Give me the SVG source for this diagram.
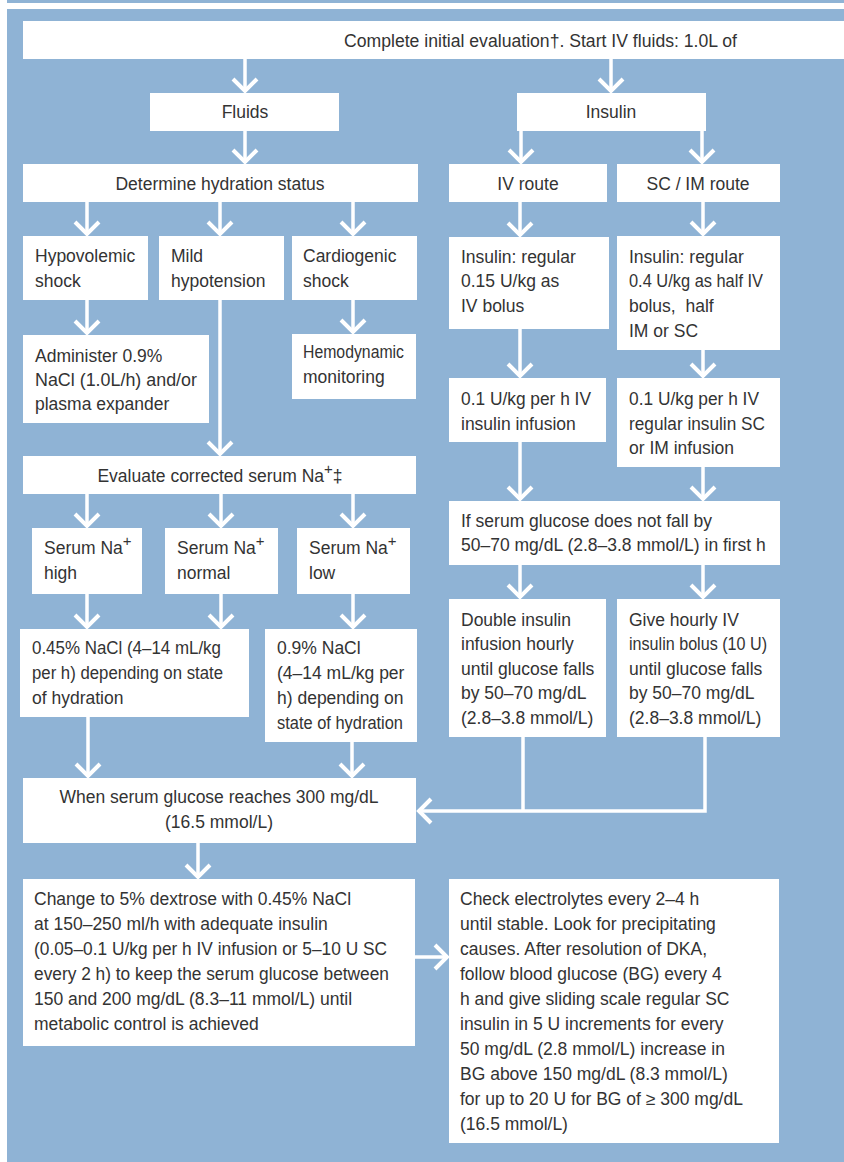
<svg xmlns="http://www.w3.org/2000/svg" width="844" height="1162" viewBox="0 0 844 1162">
<defs>
<style>
.bx{fill:#ffffff}
.t{font-family:"Liberation Sans",Arial,sans-serif;font-size:17.5px;fill:#333333}
.c{text-anchor:middle}
.sup{font-size:15px}
.ln{fill:none;stroke:#ffffff;stroke-width:3.5}
.ar{fill:none;stroke:#ffffff;stroke-width:3.5;marker-end:url(#ah)}
</style>
<marker id="ah" markerUnits="userSpaceOnUse" viewBox="-16 -16 20 32" markerWidth="20" markerHeight="32" refX="1" refY="0" orient="auto">
<path d="M-12,-12 L0,0 L-12,12" fill="none" stroke="#ffffff" stroke-width="4"/>
</marker>
</defs>
<rect x="0" y="0" width="844" height="1162" fill="#ffffff"/>
<rect x="7" y="0" width="837" height="3" fill="#8fb3d5"/>
<rect x="7" y="9" width="837" height="1153" fill="#8fb3d5"/>

<g id="connectors">
<path class="ar" d="M245,59 V92"/>
<path class="ar" d="M611,59 V92"/>
<path class="ar" d="M245,131 V163"/>
<path class="ar" d="M521,131 V163"/>
<path class="ar" d="M702,131 V163"/>
<path class="ar" d="M87,202 V235"/>
<path class="ar" d="M220,202 V235"/>
<path class="ar" d="M353,202 V235"/>
<path class="ar" d="M520,202 V236"/>
<path class="ar" d="M703,202 V235"/>
<path class="ar" d="M87,300 V334"/>
<path class="ar" d="M353,300 V333"/>
<path class="ar" d="M220,300 V455"/>
<path class="ar" d="M520,329 V377"/>
<path class="ar" d="M703,350 V377"/>
<path class="ar" d="M87,494 V527"/>
<path class="ar" d="M221,494 V527"/>
<path class="ar" d="M353,494 V527"/>
<path class="ar" d="M520,442 V500"/>
<path class="ar" d="M703,467 V500"/>
<path class="ar" d="M87,594 V628"/>
<path class="ar" d="M221,594 V628"/>
<path class="ar" d="M353,594 V628"/>
<path class="ar" d="M520,565 V598"/>
<path class="ar" d="M703,565 V598"/>
<path class="ar" d="M88,717 V777"/>
<path class="ar" d="M352,742 V777"/>
<path class="ln" d="M523,737 V811"/>
<path class="ar" d="M705,737 V811 H418"/>
<path class="ar" d="M198,843 V878"/>
<path class="ar" d="M415,957 H448"/>
</g>

<g id="n-start"><rect class="bx" x="23" y="21" width="821" height="38"/>
<text class="t" x="344" y="47" textLength="393" lengthAdjust="spacingAndGlyphs">Complete initial evaluation†. Start IV fluids: 1.0L of</text></g>

<g id="n-fluids"><rect class="bx" x="150" y="93" width="189" height="38"/>
<text class="t c" x="245" y="118">Fluids</text></g>

<g id="n-insulin"><rect class="bx" x="517" y="93" width="189" height="38"/>
<text class="t c" x="611" y="118">Insulin</text></g>

<g id="n-hydration"><rect class="bx" x="23" y="164" width="395" height="38"/>
<text class="t c" x="220" y="190">Determine hydration status</text></g>

<g id="n-ivroute"><rect class="bx" x="449" y="164" width="158" height="38"/>
<text class="t c" x="528" y="190">IV route</text></g>

<g id="n-scroute"><rect class="bx" x="617" y="164" width="163" height="38"/>
<text class="t c" x="698" y="190">SC / IM route</text></g>

<g id="n-hypovolemic"><rect class="bx" x="23" y="236" width="125" height="64"/>
<text class="t" x="35" y="262">Hypovolemic</text><text class="t" x="35" y="287">shock</text></g>

<g id="n-mild"><rect class="bx" x="159" y="236" width="125" height="64"/>
<text class="t" x="171" y="262">Mild</text><text class="t" x="171" y="287">hypotension</text></g>

<g id="n-cardiogenic"><rect class="bx" x="292" y="236" width="125" height="64"/>
<text class="t" x="303" y="262">Cardiogenic</text><text class="t" x="303" y="287">shock</text></g>

<g id="n-ivbolus"><rect class="bx" x="449" y="237" width="160" height="92"/>
<text class="t" x="461" y="263">Insulin: regular</text><text class="t" x="461" y="287">0.15 U/kg as</text><text class="t" x="461" y="312">IV bolus</text></g>

<g id="n-scbolus"><rect class="bx" x="617" y="236" width="163" height="114"/>
<text class="t" x="629" y="263">Insulin: regular</text><text class="t" x="629" y="287" textLength="134" lengthAdjust="spacingAndGlyphs">0.4 U/kg as half IV</text><text class="t" x="629" y="312">bolus,&#160; half</text><text class="t" x="629" y="337">IM or SC</text></g>

<g id="n-administer"><rect class="bx" x="23" y="335" width="186" height="88"/>
<text class="t" x="35" y="362">Administer 0.9%</text><text class="t" x="35" y="386" textLength="162" lengthAdjust="spacingAndGlyphs">NaCl (1.0L/h) and/or</text><text class="t" x="35" y="410">plasma expander</text></g>

<g id="n-hemodynamic"><rect class="bx" x="292" y="334" width="124" height="65"/>
<text class="t" x="303" y="358" textLength="101" lengthAdjust="spacingAndGlyphs">Hemodynamic</text><text class="t" x="303" y="383">monitoring</text></g>

<g id="n-ivinfusion"><rect class="bx" x="449" y="378" width="157" height="64"/>
<text class="t" x="461" y="405" textLength="130" lengthAdjust="spacingAndGlyphs">0.1 U/kg per h IV</text><text class="t" x="461" y="430">insulin infusion</text></g>

<g id="n-scinfusion"><rect class="bx" x="617" y="378" width="163" height="89"/>
<text class="t" x="629" y="405" textLength="130" lengthAdjust="spacingAndGlyphs">0.1 U/kg per h IV</text><text class="t" x="629" y="430" textLength="136" lengthAdjust="spacingAndGlyphs">regular insulin SC</text><text class="t" x="629" y="454">or IM infusion</text></g>

<g id="n-evaluate"><rect class="bx" x="23" y="456" width="393" height="38"/>
<text class="t c" x="220" y="482">Evaluate corrected serum Na<tspan class="sup" dy="-8">+</tspan><tspan dy="8">‡</tspan></text></g>

<g id="n-iffall"><rect class="bx" x="449" y="501" width="331" height="64"/>
<text class="t" x="461" y="527">If serum glucose does not fall by</text><text class="t" x="461" y="551">50–70 mg/dL (2.8–3.8 mmol/L) in first h</text></g>

<g id="n-nahigh"><rect class="bx" x="32" y="528" width="110" height="66"/>
<text class="t" x="44" y="554">Serum Na<tspan class="sup" dy="-8">+</tspan></text><text class="t" x="44" y="579">high</text></g>

<g id="n-nanormal"><rect class="bx" x="165" y="528" width="113" height="66"/>
<text class="t" x="177" y="554">Serum Na<tspan class="sup" dy="-8">+</tspan></text><text class="t" x="177" y="579">normal</text></g>

<g id="n-nalow"><rect class="bx" x="297" y="528" width="113" height="66"/>
<text class="t" x="309" y="554">Serum Na<tspan class="sup" dy="-8">+</tspan></text><text class="t" x="309" y="579">low</text></g>

<g id="n-double"><rect class="bx" x="449" y="599" width="157" height="138"/>
<text class="t" x="461" y="626">Double insulin</text><text class="t" x="461" y="650">infusion hourly</text><text class="t" x="461" y="675">until glucose falls</text><text class="t" x="461" y="699">by 50–70 mg/dL</text><text class="t" x="461" y="724">(2.8–3.8 mmol/L)</text></g>

<g id="n-hourly"><rect class="bx" x="617" y="599" width="163" height="138"/>
<text class="t" x="629" y="626">Give hourly IV</text><text class="t" x="629" y="650" textLength="138" lengthAdjust="spacingAndGlyphs">insulin bolus (10 U)</text><text class="t" x="629" y="675">until glucose falls</text><text class="t" x="629" y="699">by 50–70 mg/dL</text><text class="t" x="629" y="724">(2.8–3.8 mmol/L)</text></g>

<g id="n-nacl045"><rect class="bx" x="20" y="629" width="229" height="88"/>
<text class="t" x="32" y="654" textLength="189" lengthAdjust="spacingAndGlyphs">0.45% NaCl (4–14 mL/kg</text><text class="t" x="32" y="679" textLength="191" lengthAdjust="spacingAndGlyphs">per h) depending on state</text><text class="t" x="32" y="704">of hydration</text></g>

<g id="n-nacl09"><rect class="bx" x="265" y="629" width="152" height="113"/>
<text class="t" x="277" y="654">0.9% NaCl</text><text class="t" x="277" y="679">(4–14 mL/kg per</text><text class="t" x="277" y="704">h) depending on</text><text class="t" x="277" y="729" textLength="126" lengthAdjust="spacingAndGlyphs">state of hydration</text></g>

<g id="n-when"><rect class="bx" x="23" y="778" width="393" height="65"/>
<text class="t c" x="219" y="803">When serum glucose reaches 300 mg/dL</text><text class="t c" x="219" y="828">(16.5 mmol/L)</text></g>

<g id="n-change"><rect class="bx" x="23" y="879" width="392" height="167"/>
<text class="t" x="34" y="905">Change to 5% dextrose with 0.45% NaCl</text>
<text class="t" x="34" y="930">at 150–250 ml/h with adequate insulin</text>
<text class="t" x="34" y="955" textLength="353" lengthAdjust="spacingAndGlyphs">(0.05–0.1 U/kg per h IV infusion or 5–10 U SC</text>
<text class="t" x="34" y="980" textLength="355" lengthAdjust="spacingAndGlyphs">every 2 h) to keep the serum glucose between</text>
<text class="t" x="34" y="1005">150 and 200 mg/dL (8.3–11 mmol/L) until</text>
<text class="t" x="34" y="1030">metabolic control is achieved</text></g>

<g id="n-check"><rect class="bx" x="449" y="879" width="330" height="264"/>
<text class="t" x="460" y="905">Check electrolytes every 2–4 h</text>
<text class="t" x="460" y="930">until stable. Look for precipitating</text>
<text class="t" x="460" y="955">causes. After resolution of DKA,</text>
<text class="t" x="460" y="980">follow blood glucose (BG) every 4</text>
<text class="t" x="460" y="1005">h and give sliding scale regular SC</text>
<text class="t" x="460" y="1030">insulin in 5 U increments for every</text>
<text class="t" x="460" y="1055">50 mg/dL (2.8 mmol/L) increase in</text>
<text class="t" x="460" y="1080">BG above 150 mg/dL (8.3 mmol/L)</text>
<text class="t" x="460" y="1105">for up to 20 U for BG of ≥ 300 mg/dL</text>
<text class="t" x="460" y="1130">(16.5 mmol/L)</text></g>
</svg>
